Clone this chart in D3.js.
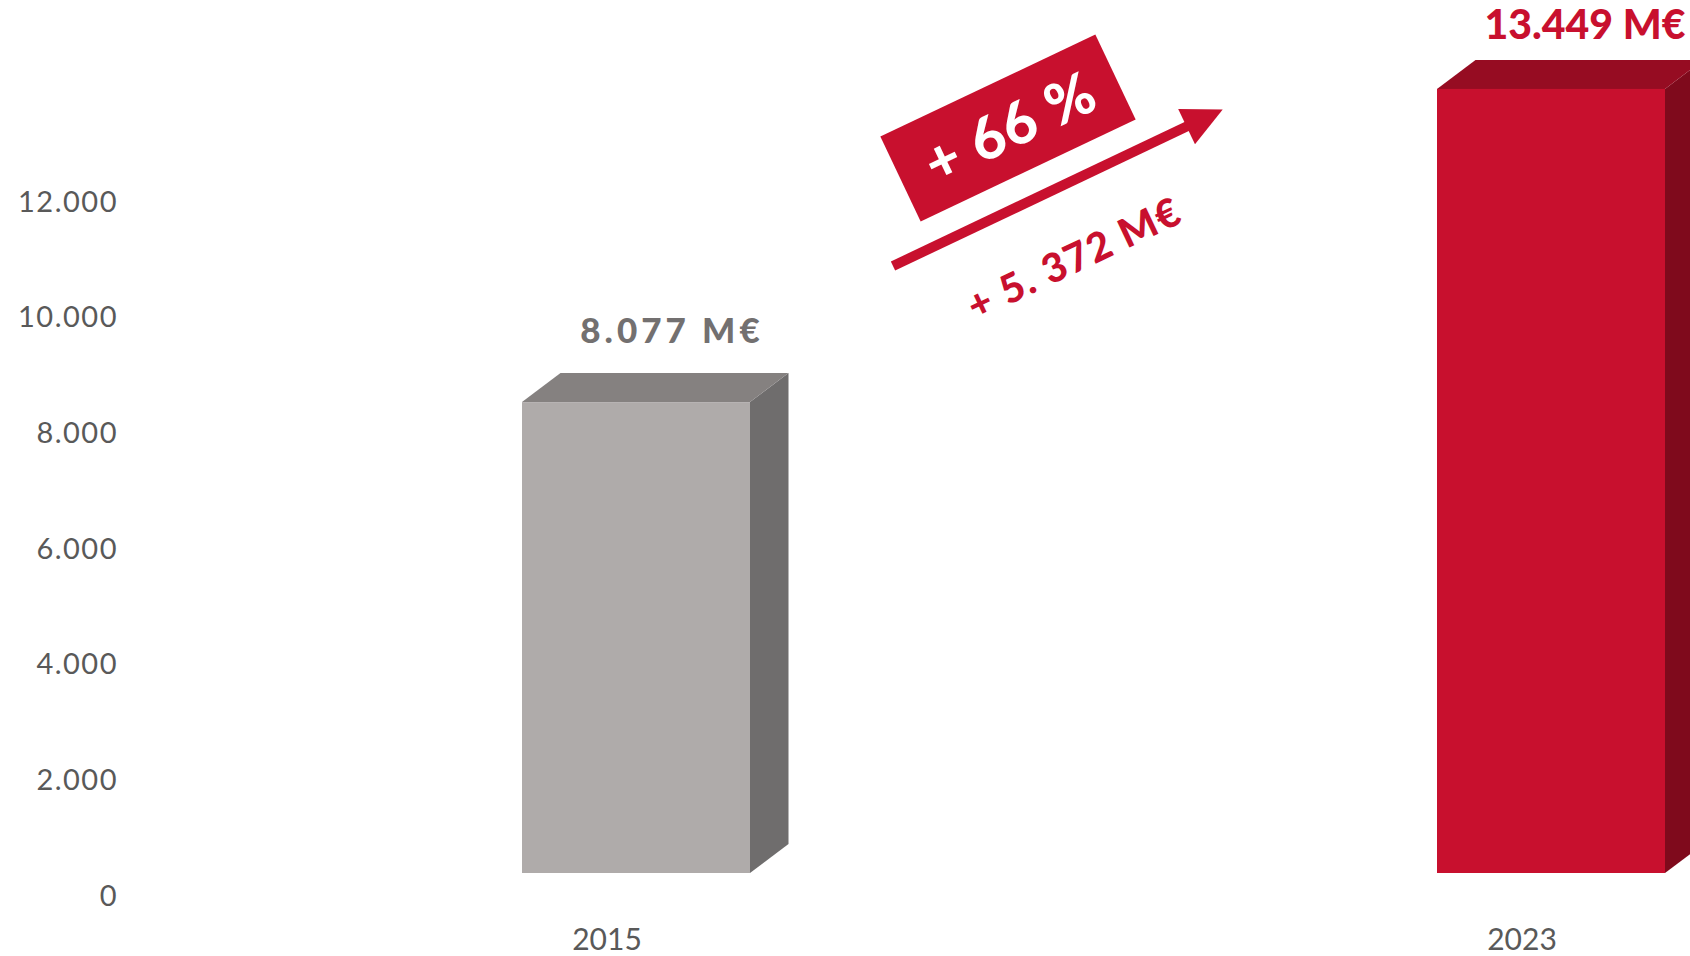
<!DOCTYPE html>
<html>
<head>
<meta charset="utf-8">
<script src="https://cdn.jsdelivr.net/npm/d3@7"></script>
<style>
  body { margin: 0; background: #fff; }
  svg { display: block; font-family: Lato, "Noto Sans", sans-serif; }
</style>
</head>
<body>
<script>
// data
const years = ["2015", "2023"];
const values = [8077, 13449];
const valueLabels = ["8.077 M€", "13.449 M€"];
const yTicks = [0, 2000, 4000, 6000, 8000, 10000, 12000];
const growthPct = "+ 66 %";
const growthAbs = "+ 5. 372 M€";

const WIDTH = 1690;
const HEIGHT = 956;
const BASE = 873;        // bottom of the front faces
const BAR_W = 228;
const DEPTH = { x: 38.5, y: 29 };

const RED = "#c8102e";
const colors = [
  { front: "#afabaa", top: "#858180", side: "#6f6d6d", label: "#737070", size: 35, gap: 30, ls: 4 },
  { front: RED, top: "#960c22", side: "#7f0a1c", label: RED, size: 41, gap: 21, ls: 0 }
];

const locale = d3.formatLocale({ decimal: ",", thousands: ".", grouping: [3], currency: ["", "€"] });
const fmt = locale.format(",");

const svg = d3.select("body")
  .append("svg")
  .attr("width", WIDTH)
  .attr("height", HEIGHT);

const x = d3.scalePoint()
  .domain(years)
  .range([636, 1551]);

const y = d3.scaleLinear()
  .domain([0, 12000])
  .range([BASE, BASE - 12000 * 0.0583]);

// the axis labels sit on the back wall of the 3d plot, slightly tighter
const yLabels = y.copy().range([BASE + 23, BASE + 23 - 12000 * 0.05785]);

// y axis (labels only)
const yAxis = svg.append("g")
  .attr("transform", "translate(118,0)")
  .call(d3.axisLeft(yLabels).tickValues(yTicks).tickFormat(fmt).tickSize(0).tickPadding(0));
yAxis.select(".domain").remove();
yAxis.selectAll("text")
  .attr("font-family", "Lato, sans-serif")
  .attr("font-size", 29)
  .attr("letter-spacing", 1.5)
  .attr("fill", "#595959");

// x axis labels
svg.selectAll(".year")
  .data(years)
  .enter()
  .append("text")
  .attr("class", "year")
  .attr("x", d => x(d) - 29)
  .attr("y", 950)
  .attr("text-anchor", "middle")
  .attr("font-size", 30)
  .attr("fill", "#595959")
  .text(d => d);

// 3d bars
const bars = svg.selectAll(".bar")
  .data(values)
  .enter()
  .append("g")
  .attr("class", "bar");

bars.append("path")
  .attr("fill", (d, i) => colors[i].side)
  .attr("d", (d, i) => {
    const x1 = x(years[i]) + BAR_W / 2, t = y(d);
    return `M${x1},${t}L${x1 + DEPTH.x},${t - DEPTH.y}L${x1 + DEPTH.x},${BASE - DEPTH.y}L${x1},${BASE}Z`;
  });

bars.append("path")
  .attr("fill", (d, i) => colors[i].top)
  .attr("d", (d, i) => {
    const x0 = x(years[i]) - BAR_W / 2, t = y(d);
    return `M${x0},${t}L${x0 + DEPTH.x},${t - DEPTH.y}L${x0 + BAR_W + DEPTH.x},${t - DEPTH.y}L${x0 + BAR_W},${t}Z`;
  });

bars.append("rect")
  .attr("x", (d, i) => x(years[i]) - BAR_W / 2)
  .attr("y", d => y(d))
  .attr("width", BAR_W)
  .attr("height", d => BASE - y(d))
  .attr("fill", (d, i) => colors[i].front);

bars.append("text")
  .attr("x", (d, i) => x(years[i]) + 34 + colors[i].ls / 2)
  .attr("y", (d, i) => y(d) - DEPTH.y - colors[i].gap)
  .attr("text-anchor", "middle")
  .attr("font-weight", 900)
  .attr("font-size", (d, i) => colors[i].size)
  .attr("letter-spacing", (d, i) => colors[i].ls)
  .attr("fill", (d, i) => colors[i].label)
  .text((d, i) => valueLabels[i]);

// growth annotation
const ANGLE = -25.4;
const badge = svg.append("g")
  .attr("transform", `translate(1008,128) rotate(${ANGLE})`);
badge.append("rect")
  .attr("x", -119).attr("y", -47)
  .attr("width", 238).attr("height", 94)
  .attr("fill", RED);
badge.append("text")
  .attr("text-anchor", "middle")
  .attr("x", 2)
  .attr("dy", "0.36em")
  .attr("font-weight", 900)
  .attr("font-size", 58)
  .attr("letter-spacing", 1)
  .attr("fill", "#fff")
  .text(growthPct);

const arrow = svg.append("g")
  .attr("transform", `translate(893,266) rotate(${ANGLE})`);
arrow.append("rect")
  .attr("x", 0).attr("y", -5)
  .attr("width", 328).attr("height", 10)
  .attr("fill", RED);
arrow.append("path")
  .attr("d", "M365,0L325,-19.6L325,19.6Z")
  .attr("fill", RED);

svg.append("text")
  .attr("transform", `translate(1074,258) rotate(${ANGLE})`)
  .attr("text-anchor", "middle")
  .attr("dy", "0.36em")
  .attr("font-weight", 900)
  .attr("font-size", 40)
  .attr("letter-spacing", 1.5)
  .attr("fill", RED)
  .text(growthAbs);
</script>
</body>
</html>
